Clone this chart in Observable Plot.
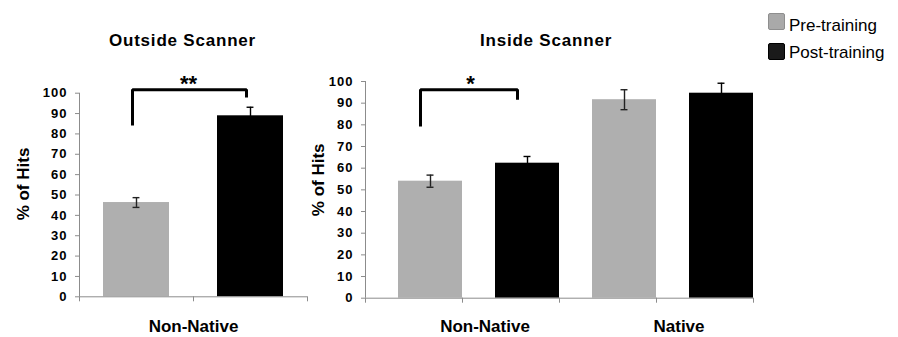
<!DOCTYPE html>
<html>
<head>
<meta charset="utf-8">
<script src="https://cdn.jsdelivr.net/npm/d3@7"></script>
<script src="https://cdn.jsdelivr.net/npm/@observablehq/plot@0.6"></script>
<style>
  body { margin: 0; background: #fff; }
  #wrap { position: relative; width: 898px; height: 337px; overflow: hidden; background: #fff;
          font-family: "Liberation Sans", Arial, sans-serif; color: #000; }
  .abs { position: absolute; }
  .title { font-weight: bold; font-size: 17px; letter-spacing: 0.8px; line-height: 20px;
           white-space: nowrap; text-align: center; width: 300px; }
  .sw { width: 15px; height: 15px; border-radius: 2px; }
  .lg { font-size: 17px; line-height: 20px; white-space: nowrap; }
  #wrap g[aria-label="y-axis tick label"] text { letter-spacing: 1px; }
  #wrap g[aria-label="category"] text { letter-spacing: 0.8px; }
</style>
</head>
<body>
<div id="wrap"></div>
<script>
// ---------- data ----------
const conditions = ["Pre-training", "Post-training"];
const barColors = ["#afafaf", "#000000"];
const legendFills = ["#a9a9a9", "#1a1a1a"];
const legendBorders = ["#8e8e8e", "#000000"];
const yTicks = [0, 10, 20, 30, 40, 50, 60, 70, 80, 90, 100];
const yLabel = "% of Hits";

const outsideTitle = "Outside Scanner";
const outsideGroups = ["Non-Native"];
const outsidePre = [46.3];
const outsidePost = [88.9];
const outsidePreErr = [2.4];
const outsidePostErr = [4.2];
const outsideBracket = [84.1, 101.7, 97.9]; // left foot, top, right foot
const outsideStars = "**";

const insideTitle = "Inside Scanner";
const insideGroups = ["Non-Native", "Native"];
const insidePre = [54.0, 91.6];
const insidePost = [62.3, 94.6];
const insidePreErr = [2.8, 4.6];
const insidePostErr = [3.1, 4.6];
const insideBracket = [79.2, 96.2, 91.6];
const insideStars = "*";

// ---------- helpers ----------
function buildRows(groups, pre, post, preErr, postErr) {
  const rows = [];
  groups.forEach((g, i) => {
    rows.push({group: g, condition: conditions[0], slot: g + " · " + conditions[0], value: pre[i], err: preErr[i]});
    rows.push({group: g, condition: conditions[1], slot: g + " · " + conditions[1], value: post[i], err: postErr[i]});
  });
  return rows;
}

function makeChart(cfg) {
  const {rows, bracket, stars, width, height, mL, mR, mT, mB, pi, po, align,
         tickMode, labelShift, labelDy, starShift, bracketDx, ylabelDx, ylabelDy} = cfg;
  const slots = rows.map(d => d.slot);
  const band = d3.scaleBand(slots, [mL, width - mR]).paddingInner(pi).paddingOuter(po).align(align);
  const step = band.step(), bw = band.bandwidth();
  const capHalf = 3.5;
  const tickDx = tickMode === "center" ? -step / 2 : bw / 2 - step;
  const preRows = rows.filter(d => d.condition === conditions[0]);
  const isPre = d => d.condition === conditions[0];
  const isPost = d => d.condition === conditions[1];
  const bracketPts = [
    {slot: slots[0], y: bracket[0]},
    {slot: slots[0], y: bracket[1]},
    {slot: slots[1], y: bracket[1]},
    {slot: slots[1], y: bracket[2]}
  ];
  const axisColor = "#8c8c8c";
  const errPre = "#222";
  const errPost = "#000";
  const capOpts = {insetLeft: bw / 2 - capHalf, insetRight: bw / 2 - capHalf, strokeWidth: 1.4};
  return Plot.plot({
    width, height,
    marginLeft: mL, marginRight: mR, marginTop: mT, marginBottom: mB,
    style: {background: "transparent", overflow: "visible", fontFamily: "'Liberation Sans', Arial, sans-serif", color: "#000"},
    x: {type: "band", domain: slots, paddingInner: pi, paddingOuter: po, align, axis: null},
    y: {domain: [yTicks[0], yTicks[yTicks.length - 1]], axis: null},
    color: {domain: conditions, range: barColors},
    marks: [
      Plot.barY(rows, {x: "slot", y: "value", fill: "condition"}),
      // error bars – pre (grey bars)
      Plot.ruleX(rows, {filter: isPre, x: "slot", y1: d => d.value - d.err, y2: d => d.value + d.err, stroke: errPre, strokeWidth: 1.4}),
      Plot.tickY(rows, {filter: isPre, x: "slot", y: d => d.value + d.err, stroke: errPre, ...capOpts}),
      Plot.tickY(rows, {filter: isPre, x: "slot", y: d => d.value - d.err, stroke: errPre, ...capOpts}),
      // error bars – post (black bars)
      Plot.ruleX(rows, {filter: isPost, x: "slot", y1: d => d.value - d.err, y2: d => d.value + d.err, stroke: errPost, strokeWidth: 1.4}),
      Plot.tickY(rows, {filter: isPost, x: "slot", y: d => d.value + d.err, stroke: errPost, ...capOpts}),
      Plot.tickY(rows, {filter: isPost, x: "slot", y: d => d.value - d.err, stroke: errPost, ...capOpts}),
      // x axis line
      Plot.ruleY([yTicks[0]], {stroke: axisColor}),
      // y axis line (at first slot boundary)
      Plot.ruleX([slots[0]], {x: d => d, y1: yTicks[0], y2: yTicks[yTicks.length - 1], dx: tickDx, stroke: axisColor}),
      // x tick marks at slot boundaries
      Plot.ruleX(slots, {x: d => d, y1: yTicks[0], y2: yTicks[0], insetBottom: -5, dx: tickDx, stroke: axisColor}),
      Plot.ruleX([slots[slots.length - 1]], {x: d => d, y1: yTicks[0], y2: yTicks[0], insetBottom: -5, dx: tickDx + step, stroke: axisColor}),
      Plot.axisY({ticks: yTicks, tickSize: 4, tickPadding: 8, stroke: axisColor, fill: "#000",
                  fontSize: 13, fontWeight: "bold", label: null}),
      // significance bracket
      Plot.line(bracketPts, {x: "slot", y: "y", stroke: "#000", strokeWidth: 3, dx: bracketDx,
                             strokeLinejoin: "miter", strokeLinecap: "butt"}),
      Plot.text([stars], {x: () => slots[0], y: () => bracket[1], text: d => d, dx: step / 2 + starShift, dy: -5.5,
                          fontSize: 22, fontWeight: "bold", fill: "#000"}),
      // category labels
      Plot.text(preRows, {x: "slot", y: () => yTicks[0], text: "group", dx: step / 2 + labelShift, dy: labelDy,
                          fontSize: 17, fontWeight: "bold", fill: "#000", ariaLabel: "category"}),
      // y axis title
      Plot.text([yLabel], {frameAnchor: "left", text: d => d, rotate: -90, dx: ylabelDx, dy: ylabelDy,
                           fontSize: 17, fontWeight: "bold", fill: "#000", textAnchor: "middle"})
    ]
  });
}

// ---------- layout ----------
const wrap = document.getElementById("wrap");
function place(el, left, top) {
  const d = document.createElement("div");
  d.className = "abs";
  d.style.left = left + "px";
  d.style.top = top + "px";
  d.appendChild(el);
  wrap.appendChild(d);
  return d;
}

const leftChart = makeChart({
  rows: buildRows(outsideGroups, outsidePre, outsidePost, outsidePreErr, outsidePostErr),
  bracket: outsideBracket, stars: outsideStars,
  width: 310, height: 337, mL: 79, mR: 3, mT: 92.7, mB: 40.7,
  pi: 0.42, po: 0.21, align: 0.5, tickMode: "center",
  labelShift: 0, labelDy: 29.7, starShift: -5, bracketDx: -4, ylabelDx: -56, ylabelDy: -11
});
place(leftChart, 0, 0);

const rightChart = makeChart({
  rows: buildRows(insideGroups, insidePre, insidePost, insidePreErr, insidePostErr),
  bracket: insideBracket, stars: insideStars,
  width: 460, height: 337, mL: 55, mR: 17, mT: 81, mB: 39.3,
  pi: 0.34, po: 0.17, align: 1, tickMode: "right",
  labelShift: 6, labelDy: 28.3, starShift: -8.5, bracketDx: -10, ylabelDx: -47, ylabelDy: -10
});
place(rightChart, 310, 0);

// titles
function addTitle(text, center) {
  const t = document.createElement("div");
  t.className = "title";
  t.textContent = text;
  place(t, center - 150, 31);
}
addTitle(outsideTitle, 182.5);
addTitle(insideTitle, 546);

// legend
conditions.forEach((c, i) => {
  const sw = document.createElement("div");
  sw.className = "sw";
  sw.style.background = legendFills[i];
  sw.style.border = "1px solid " + legendBorders[i];
  place(sw, 768, 13 + 30 * i);
  const lb = document.createElement("div");
  lb.className = "lg";
  lb.textContent = c;
  place(lb, 789, 16 + 27 * i);
});
</script>
</body>
</html>
